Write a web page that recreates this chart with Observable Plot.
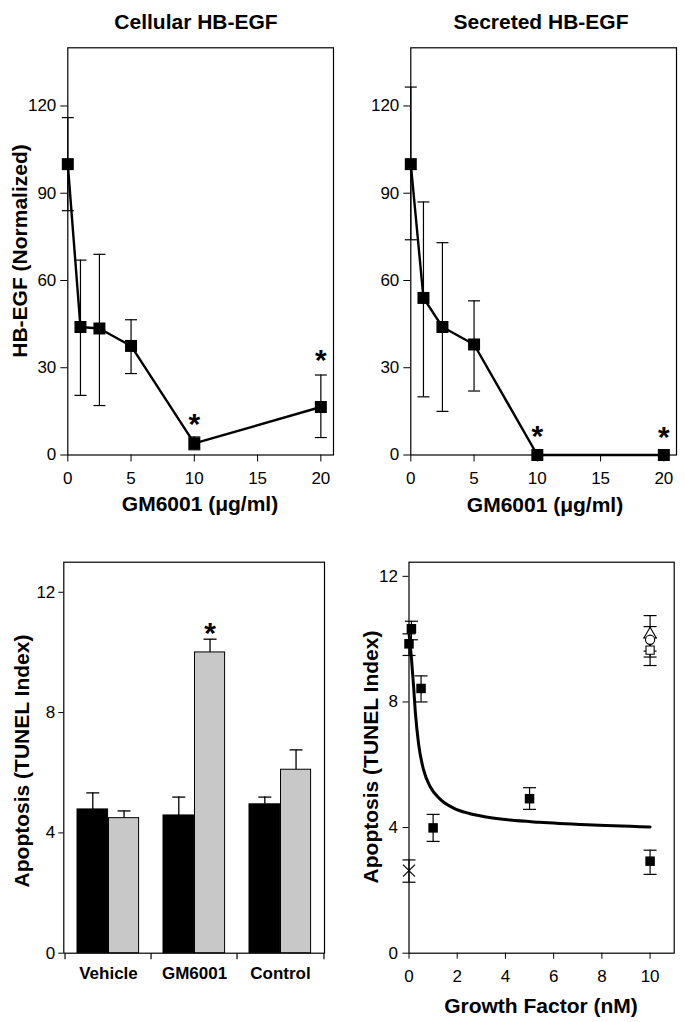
<!DOCTYPE html>
<html><head><meta charset="utf-8">
<script src="https://cdn.jsdelivr.net/npm/d3@7"></script>
<script src="https://cdn.jsdelivr.net/npm/@observablehq/plot@0.6"></script>
<style>
body{margin:0;background:#fff;}
#wrap{position:relative;width:685px;height:1022px;overflow:hidden;font-family:"Liberation Sans",Arial,sans-serif;background:#fff;}
.lbl{position:absolute;font-weight:bold;white-space:nowrap;color:#000;line-height:1;transform:translate(-50%,-50%);}
.rot{transform:translate(-50%,-50%) rotate(-90deg);}
</style></head><body><div id="wrap"></div>
<script>
// ---------- data ----------
// Panel A: Cellular HB-EGF
const gmDose = [0, 1, 2.5, 5, 10, 20];
const cellMean = [100, 44, 43.5, 37.5, 4, 16.5];
const cellLow = [84, 20.5, 17, 28, 1.8, 6];
const cellHigh = [116, 67, 69, 46.5, 6.2, 27.5];
const cellStarX = [10, 20];
const cellStarY = [13, 35];
// Panel B: Secreted HB-EGF
const secMean = [100, 54, 44, 38, 0, 0];
const secLow = [74, 20, 15, 22, null, null];
const secHigh = [126.5, 87, 73, 53, null, null];
const secStarX = [10, 20];
const secStarY = [8.9, 8.6];
// Panel C: bars
const cats = ["Vehicle", "GM6001", "Control"];
const blackVals = [4.78, 4.58, 4.95];
const blackErr = [5.33, 5.19, 5.19];
const grayVals = [4.49, 10.0, 6.10];
const grayErr = [4.73, 10.44, 6.76];
const barStarCat = ["GM6001"];
const barStarY = [10.86];
// Panel D: growth factor
const gfDose = [0, 0.1, 0.5, 1, 5, 10];
const gfMean = [9.85, 10.33, 8.43, 3.99, 4.92, 2.93];
const gfLow = [9.48, 9.98, 8.0, 3.56, 4.58, 2.51];
const gfHigh = [10.17, 10.57, 8.83, 4.42, 5.27, 3.28];
const ctlX = [0];
const ctlMean = [2.63];
const ctlLow = [2.26];
const ctlHigh = [2.97];
const openSymbols = ["triangle", "circle", "square"];
const openX = [10, 10, 10];
const openMean = [10.15, 9.98, 9.65];
const openLow = [9.62, 9.43, 9.16];
const openHigh = [10.75, 10.4, 10.05];
const fitX = [0, 0.1, 0.19, 0.26, 0.4, 0.6, 0.88, 1.3, 1.85, 2.5, 3.2, 4.2, 5.4, 7.4, 10];
const fitY = [10.2, 9.4, 8.5, 7.7, 6.65, 5.85, 5.3, 4.9, 4.62, 4.45, 4.34, 4.24, 4.17, 4.09, 4.02];

// ---------- helpers ----------
const wrap = document.getElementById("wrap");
const FONT = '"Liberation Sans", Arial, sans-serif';
const capSym = {draw(ctx, size) { const w = Math.sqrt(size); ctx.moveTo(-w / 2, 0); ctx.lineTo(w / 2, 0); }};
const downTick = {draw(ctx, size) { const l = Math.sqrt(size); ctx.moveTo(0, 0); ctx.lineTo(0, l); }};
const rFor = w => w / Math.sqrt(Math.PI);
const baseStyle = {fontFamily: FONT, fontSize: "17px", color: "#000", background: "transparent", overflow: "visible"};
function place(node, left, top) {
  node.style.position = "absolute"; node.style.left = left + "px"; node.style.top = top + "px";
  wrap.appendChild(node);
}
function label(text, x, y, size, rotate) {
  const d = document.createElement("div");
  d.className = "lbl" + (rotate ? " rot" : "");
  d.style.left = x + "px"; d.style.top = y + "px"; d.style.fontSize = size + "px";
  d.textContent = text;
  wrap.appendChild(d);
}
function rowsOf(xs, m, lo, hi) { return xs.map((x, i) => ({x, y: m[i], lo: lo[i], hi: hi[i]})); }
function errMarks(rows, capW, sw) {
  const r = rows.filter(d => d.hi != null);
  return [
    Plot.ruleX(r, {x: "x", y1: "lo", y2: "hi", stroke: "#000", strokeWidth: sw}),
    Plot.dot(r, {x: "x", y: "lo", symbol: capSym, r: rFor(capW), stroke: "#000", strokeWidth: sw}),
    Plot.dot(r, {x: "x", y: "hi", symbol: capSym, r: rFor(capW), stroke: "#000", strokeWidth: sw})
  ];
}
function stars(xs, ys, fs) {
  return Plot.text(xs.map((x, i) => ({x, y: ys[i]})), {x: "x", y: "y", text: () => "*", fontSize: fs, fontWeight: "bold", fill: "#000", dy: 0.24 * fs});
}

// ---------- Panels A & B ----------
function doseplot(mean, low, high, sx, sy) {
  const rows = rowsOf(gmDose, mean, low, high);
  return Plot.plot({
    width: 342, height: 520, marginLeft: 67.3, marginRight: 9, marginTop: 47.3, marginBottom: 65.5,
    style: baseStyle,
    x: {domain: [0, 21], ticks: [0, 5, 10, 15, 20], tickSize: 7, tickPadding: 10, label: null},
    y: {domain: [0, 140], ticks: [0, 30, 60, 90, 120], tickSize: 7, tickPadding: 4.5, label: null},
    marks: [
      Plot.frame({stroke: "#000", strokeWidth: 1.2}),
      ...errMarks(rows, 12, 1.2),
      Plot.line(rows, {x: "x", y: "y", stroke: "#000", strokeWidth: 2.4}),
      Plot.dot(rows, {x: "x", y: "y", symbol: "square", r: rFor(12), fill: "#000"}),
      stars(sx, sy, 30)
    ]
  });
}
place(doseplot(cellMean, cellLow, cellHigh, cellStarX, cellStarY), 0, 0);
place(doseplot(secMean, secLow, secHigh, secStarX, secStarY), 342.5, 0);

// ---------- Panel C ----------
{
  const W = 342, mL = 63.3, mR = 18;
  const bw = (W - mL - mR) / 3;
  const bRows = cats.map((c, i) => ({c, v: blackVals[i], e: blackErr[i]}));
  const gRows = cats.map((c, i) => ({c, v: grayVals[i], e: grayErr[i]}));
  const bIn = 12, split = 43.5, gIn = 12.4;
  const bDx = (bIn + split) / 2 - bw / 2, gDx = (split + bw - gIn) / 2 - bw / 2;
  const errFor = (rows, dx) => [
    Plot.ruleX(rows, {x: "c", y1: "v", y2: "e", dx, stroke: "#000", strokeWidth: 1.3}),
    Plot.dot(rows, {x: "c", y: "e", dx, symbol: capSym, r: rFor(13), stroke: "#000", strokeWidth: 1.3})
  ];
  const p = Plot.plot({
    width: W, height: 502, marginLeft: mL, marginRight: mR, marginTop: 41.7, marginBottom: 69.3,
    style: baseStyle,
    x: {type: "band", domain: cats, padding: 0, axis: null},
    y: {domain: [0, 13], ticks: [0, 4, 8, 12], tickSize: 5, tickPadding: 3.5, label: null},
    marks: [
      Plot.frame({stroke: "#000", strokeWidth: 1.2}),
      ...errFor(bRows, bDx),
      ...errFor(gRows, gDx),
      Plot.barY(bRows, {x: "c", y: "v", fill: "#000", stroke: "#000", strokeWidth: 1, insetLeft: bIn, insetRight: bw - split}),
      Plot.barY(gRows, {x: "c", y: "v", fill: "#c8c8c8", stroke: "#000", strokeWidth: 1, insetLeft: split, insetRight: gIn}),
      Plot.dot(cats, {x: d => d, y: () => 0, dx: -bw / 2, symbol: downTick, r: rFor(6), stroke: "#000", strokeWidth: 1.2}),
      Plot.dot([cats[cats.length - 1]], {x: d => d, y: () => 0, dx: bw / 2, symbol: downTick, r: rFor(6), stroke: "#000", strokeWidth: 1.2}),
      Plot.text(cats, {x: d => d, frameAnchor: "bottom", dy: 26, text: d => d, fontWeight: "bold", fontSize: 17, fill: "#000"}),
      Plot.text(barStarCat.map((c, i) => ({c, y: barStarY[i]})), {x: "c", y: "y", dx: gDx, text: () => "*", fontSize: 30, fontWeight: "bold", fill: "#000", dy: 0.24 * 30})
    ]
  });
  place(p, 0, 520);
}

// ---------- Panel D ----------
{
  const rows = rowsOf(gfDose, gfMean, gfLow, gfHigh);
  const ctl = rowsOf(ctlX, ctlMean, ctlLow, ctlHigh);
  const open = openX.map((x, i) => ({x, y: openMean[i], lo: openLow[i], hi: openHigh[i], s: openSymbols[i]}));
  const fit = fitX.map((x, i) => ({x, y: fitY[i]}));
  const p = Plot.plot({
    width: 343, height: 502, marginLeft: 66.5, marginRight: 11.3, marginTop: 41.7, marginBottom: 69.3,
    style: baseStyle,
    x: {domain: [0, 11], ticks: [0, 2, 4, 6, 8, 10], tickSize: 6, tickPadding: 11, label: null},
    y: {domain: [0, 12.45], ticks: [0, 4, 8, 12], tickSize: 6, tickPadding: 5, label: null},
    symbol: {type: "identity"},
    marks: [
      Plot.frame({stroke: "#000", strokeWidth: 1.2}),
      ...errMarks(open, 13, 1.2),
      ...errMarks(ctl, 13, 1.2),
      ...errMarks(rows, 13, 1.2),
      Plot.line(fit, {x: "x", y: "y", curve: "monotone-x", stroke: "#000", strokeWidth: 3}),
      Plot.dot(rows, {x: "x", y: "y", symbol: "square", r: rFor(9.5), fill: "#000"}),
      Plot.dot(ctl, {x: "x", y: "y", symbol: "times", r: 5.5, stroke: "#000", strokeWidth: 1.2}),
      Plot.dot(open, {x: "x", y: "y", symbol: d => d.s, r: 4.6, fill: "#fff", stroke: "#000", strokeWidth: 1.1})
    ]
  });
  place(p, 342, 520);
}

// ---------- text ----------
label("Cellular HB-EGF", 196, 20.5, 21);
label("Secreted HB-EGF", 541, 20.5, 21);
label("HB-EGF (Normalized)", 18.5, 251, 21, true);
label("GM6001 (\u03bcg/ml)", 200, 502.5, 21);
label("GM6001 (\u03bcg/ml)", 545, 504, 21);
label("Apoptosis (TUNEL Index)", 20.5, 761, 21, true);
label("Apoptosis (TUNEL Index)", 370, 757, 21, true);
label("Growth Factor (nM)", 541, 1004.5, 21);
</script></body></html>
